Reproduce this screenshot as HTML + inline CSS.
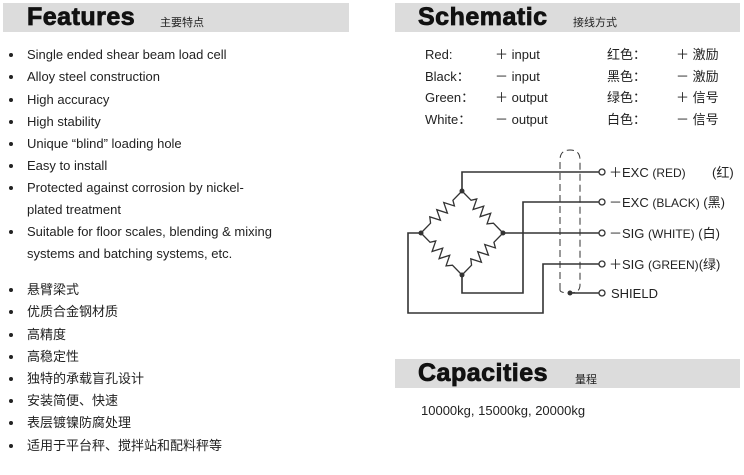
<!DOCTYPE html>
<html><head><meta charset="utf-8"><style>
body{margin:0;width:744px;height:475px;background:#fff;position:relative;overflow:hidden;font-family:"Liberation Sans","Noto Sans CJK SC",sans-serif;color:#222}
.bar{position:absolute;background:#dcdcdc;height:29px}
.h{position:absolute;font-family:"Liberation Sans",sans-serif;font-weight:900;font-size:25px;color:#111;letter-spacing:0.5px;-webkit-text-stroke:0.8px #111}
.hs{position:absolute;font-size:11px;color:#222}
.t{position:absolute;font-size:13px;white-space:nowrap;line-height:16px}
.b{position:absolute;left:9px;width:4px;height:4px;border-radius:50%;background:#222}
</style></head><body>
<div class="bar" style="left:3px;top:3px;width:346px"></div>
<div class="h" style="left:27px;top:3px">Features</div>
<div class="hs" style="left:160px;top:14px">主要特点</div>
<div class="bar" style="left:395px;top:3px;width:345px"></div>
<div class="h" style="left:418px;top:3px">Schematic</div>
<div class="hs" style="left:573px;top:14px">接线方式</div>
<div class="bar" style="left:395px;top:359px;width:345px"></div>
<div class="h" style="left:418px;top:359px">Capacities</div>
<div class="hs" style="left:575px;top:371px">量程</div>
<div class="t" style="left:421px;top:403px">10000kg, 15000kg, 20000kg</div>

<div class="b" style="top:53px"></div><div class="t" style="left:27px;top:47px">Single ended shear beam load cell</div>
<div class="b" style="top:75px"></div><div class="t" style="left:27px;top:69px">Alloy steel construction</div>
<div class="b" style="top:98px"></div><div class="t" style="left:27px;top:92px">High accuracy</div>
<div class="b" style="top:120px"></div><div class="t" style="left:27px;top:114px">High stability</div>
<div class="b" style="top:142px"></div><div class="t" style="left:27px;top:136px">Unique “blind” loading hole</div>
<div class="b" style="top:164px"></div><div class="t" style="left:27px;top:158px">Easy to install</div>
<div class="b" style="top:186px"></div><div class="t" style="left:27px;top:180px">Protected against corrosion by nickel-</div>
<div class="t" style="left:27px;top:202px">plated treatment</div>
<div class="b" style="top:230px"></div><div class="t" style="left:27px;top:224px">Suitable for floor scales, blending &amp; mixing</div>
<div class="t" style="left:27px;top:246px">systems and batching systems, etc.</div>
<div class="b" style="top:288px"></div><div class="t" style="left:27px;top:282px">悬臂梁式</div>
<div class="b" style="top:310px"></div><div class="t" style="left:27px;top:304px">优质合金钢材质</div>
<div class="b" style="top:333px"></div><div class="t" style="left:27px;top:327px">高精度</div>
<div class="b" style="top:355px"></div><div class="t" style="left:27px;top:349px">高稳定性</div>
<div class="b" style="top:377px"></div><div class="t" style="left:27px;top:371px">独特的承载盲孔设计</div>
<div class="b" style="top:399px"></div><div class="t" style="left:27px;top:393px">安装简便、快速</div>
<div class="b" style="top:421px"></div><div class="t" style="left:27px;top:415px">表层镀镍防腐处理</div>
<div class="b" style="top:444px"></div><div class="t" style="left:27px;top:438px">适用于平台秤、搅拌站和配料秤等</div>

<div class="t" style="left:425px;top:47px">Red:</div><div class="t" style="left:495px;top:47px">＋ input</div><div class="t" style="left:607px;top:47px">红色：</div><div class="t" style="left:676px;top:47px">＋ 激励</div>
<div class="t" style="left:425px;top:69px">Black：</div><div class="t" style="left:495px;top:69px">－ input</div><div class="t" style="left:607px;top:69px">黑色：</div><div class="t" style="left:676px;top:69px">－ 激励</div>
<div class="t" style="left:425px;top:90px">Green：</div><div class="t" style="left:495px;top:90px">＋ output</div><div class="t" style="left:607px;top:90px">绿色：</div><div class="t" style="left:676px;top:90px">＋ 信号</div>
<div class="t" style="left:425px;top:112px">White：</div><div class="t" style="left:495px;top:112px">－ output</div><div class="t" style="left:607px;top:112px">白色：</div><div class="t" style="left:676px;top:112px">－ 信号</div>

<svg style="position:absolute;left:0;top:0" width="744" height="475">
<defs><path id="r" d="M0,0 L13,0 L16,-5 L21,5 L26,-5 L31,5 L36,-5 L41,5 L45,0 L58.7,0"/></defs>
<g fill="none" stroke="#333" stroke-width="1.6">
<polyline points="462,191 462,172 599,172"/>
<polyline points="462,275 462,293 523,293 523,202 599,202"/>
<line x1="503" y1="233" x2="599" y2="233"/>
<polyline points="421,233 408,233 408,313 543,313 543,264 599,264"/>
<line x1="570" y1="293" x2="599" y2="293"/>
<g stroke-width="1.3">
<use href="#r" transform="translate(462,191) rotate(134.3)"/>
<use href="#r" transform="translate(462,191) rotate(45.7)"/>
<use href="#r" transform="translate(421,233) rotate(45.7)"/>
<use href="#r" transform="translate(503,233) rotate(134.3)"/>
</g>
<path d="M560,290 L560,160 Q560,150 570,150 Q580,150 580,160 L580,285 Q580,293 570,293 Q560,293 560,290" stroke-dasharray="7,4" stroke-width="1"/>
<g fill="#fff" stroke-width="1.3">
<circle cx="602" cy="172" r="3"/><circle cx="602" cy="202" r="3"/><circle cx="602" cy="233" r="3"/><circle cx="602" cy="264" r="3"/><circle cx="602" cy="293" r="3"/>
</g>
</g>
<g fill="#333"><circle cx="462" cy="191" r="2.5"/><circle cx="421" cy="233" r="2.5"/><circle cx="503" cy="233" r="2.5"/><circle cx="462" cy="275" r="2.5"/><circle cx="570" cy="293" r="2.5"/></g>
<g font-family="Liberation Sans,Noto Sans CJK SC,sans-serif" fill="#222" font-size="13">
<text x="609" y="177">＋EXC <tspan font-size="12">(RED)</tspan></text><text x="712" y="177">(红)</text>
<text x="609" y="207">－EXC <tspan font-size="12">(BLACK)</tspan> (黑)</text>
<text x="609" y="238">－SIG <tspan font-size="12">(WHITE)</tspan> (白)</text>
<text x="609" y="269">＋SIG <tspan font-size="12">(GREEN)</tspan>(绿)</text>
<text x="611" y="298">SHIELD</text>
</g>
</svg>
</body></html>
